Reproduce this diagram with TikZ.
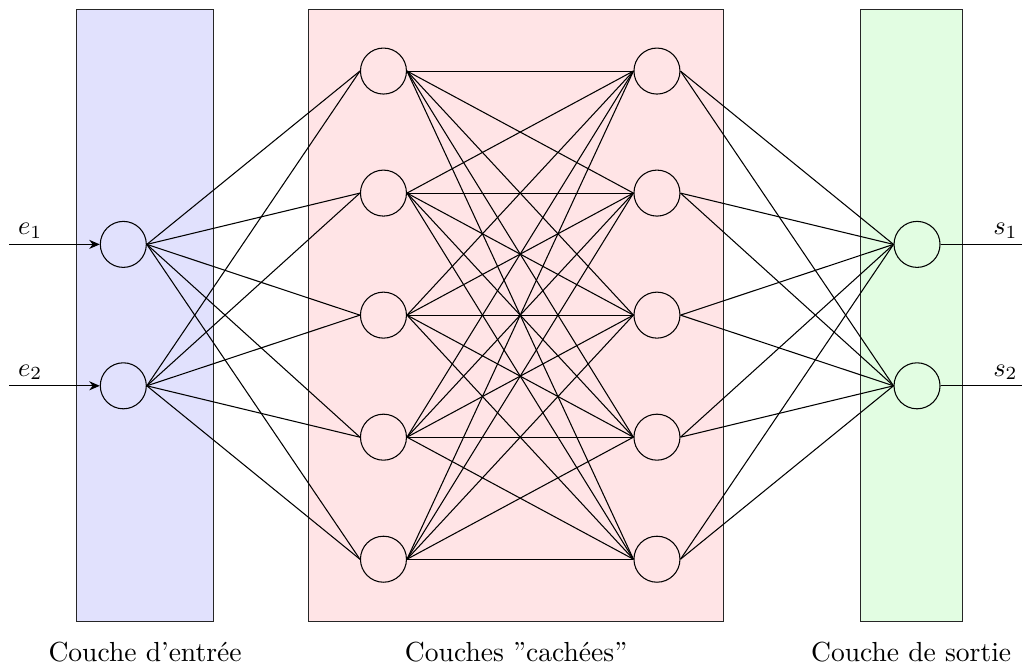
\documentclass[tikz,border=0pt]{standalone}
\usepackage{tikz}
\usetikzlibrary{arrows.meta,backgrounds,positioning}
\definecolor{infill}{RGB}{225,225,253}
\definecolor{hidfill}{RGB}{255,228,230}
\definecolor{outfill}{RGB}{226,253,226}
\tikzset{
  neuron/.style={
    draw,
    circle,
    fill=none,
    minimum size=6.1mm,
    inner sep=0pt
  },
  layerbox/.style={draw=black!85, thin},
  syn/.style={thin},
  feed/.style={-{Stealth[length=1.4mm,width=1.2mm]}, thin},
  varname/.style={anchor=south, inner sep=2pt, font=\fontsize{10.4}{12.5}\selectfont},
  layertitle/.style={align=center, font=\fontsize{10.4}{12.5}\selectfont}
}
\begin{document}
\begin{tikzpicture}[x=1cm,y=1cm]
    \useasboundingbox (0,0) rectangle (13.55,-8.886);

    \begin{scope}[on background layer]
      \path[layerbox, fill=infill]  (1.017,-0.123) rectangle (2.829,-8.245);
      \path[layerbox, fill=hidfill] (4.089,-0.123) rectangle (9.598,-8.245);
      \path[layerbox, fill=outfill] (11.406,-0.123) rectangle (12.755,-8.245);
    \end{scope}

    % input layer
    \node[neuron] (i1) at (1.635,-3.240) {};
    \node[neuron] (i2) at (1.635,-5.115) {};

    % hidden layers
    \foreach \k/\y in {1/-0.942, 2/-2.560, 3/-4.178, 4/-5.796, 5/-7.414} {
      \node[neuron] (ha\k) at (5.084,\y) {};
      \node[neuron] (hb\k) at (8.710,\y) {};
    }

    % output layer
    \node[neuron] (o1) at (12.158,-3.240) {};
    \node[neuron] (o2) at (12.158,-5.115) {};

    \coordinate (in1) at (0.12,-3.240);
    \coordinate (in2) at (0.12,-5.115);
    \coordinate (out1) at (13.55,-3.240);
    \coordinate (out2) at (13.55,-5.115);

    \node[varname] (e1) at (0.40,-3.24) {$e_1$};
    \node[varname] (e2) at (0.40,-5.115) {$e_2$};
    \node[varname] (s1) at (13.33,-3.24) {$s_1$};
    \node[varname] (s2) at (13.33,-5.115) {$s_2$};

    \node[layertitle] (tin) at (1.923,-8.65) {Couche d'entrée};
    \node[layertitle] (thid) at (6.843,-8.65) {Couches ''cachées''};
    \node[layertitle] (tout) at (12.08,-8.65) {Couche de sortie};

    \draw[feed] (in1) -- (i1.west);
    \draw[feed] (in2) -- (i2.west);
    \draw[syn] (o1.east) -- (out1);
    \draw[syn] (o2.east) -- (out2);

    \foreach \a in {1,2}
      \foreach \b in {1,...,5} {
        \draw[syn] (i\a.east) -- (ha\b.west);
        \draw[syn] (hb\b.east) -- (o\a.west);
      }
    \foreach \a in {1,...,5}
      \foreach \b in {1,...,5}
        \draw[syn] (ha\a.east) -- (hb\b.west);
  \end{tikzpicture}
\end{document}
